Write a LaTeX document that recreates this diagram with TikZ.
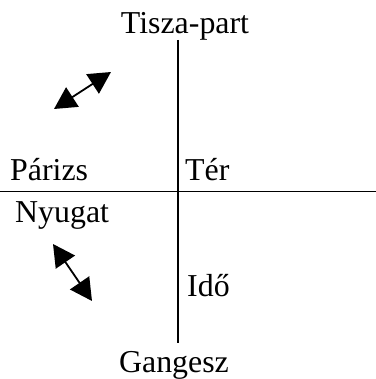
\documentclass[tikz,border=0pt]{standalone}
\usepackage{fontspec}
\setmainfont{Liberation Serif}
\usetikzlibrary{arrows.meta}
\tikzset{
  lbl/.style={inner sep=0pt, font=\fontsize{32}{38}\selectfont},
  axis/.style={line width=1.8bp},
  dir/.style={line width=1.8bp, {Triangle[length=22bp,width=23bp]}-{Triangle[length=22bp,width=23bp]}}
}
\begin{document}
\begin{tikzpicture}[x=1bp,y=1bp]
            \useasboundingbox (0,0) rectangle (376,379);
            % axes
            \coordinate (T) at (178,339);
            \coordinate (B) at (178,36);
            \coordinate (L) at (0,187.5);
            \coordinate (R) at (376,187.5);
            \draw[axis] (T) -- (B);
            \draw[axis] (L) -- (R);
            % labels
            \node[lbl, anchor=base] at (185,346) (tisza) {Tisza-part};
            \node[lbl, anchor=base] at (174,7) (ganges) {Gangesz};
            \node[lbl, anchor=base west] at (10,199) (paris) {Párizs};
            \node[lbl, anchor=base west] at (185,199) (ter) {Tér};
            \node[lbl, anchor=base west] at (15,157) (nyugat) {Nyugat};
            \node[lbl, anchor=base west] at (187,83) (ido) {Idő};
            % upper arrow
            \coordinate (A1) at (54,270);
            \coordinate (A2) at (111,307);
            \draw[dir] (A1) -- (A2);
            % lower arrow
            \coordinate (C1) at (53,135);
            \coordinate (C2) at (92,78);
            \draw[dir] (C1) -- (C2);
\end{tikzpicture}
\end{document}
